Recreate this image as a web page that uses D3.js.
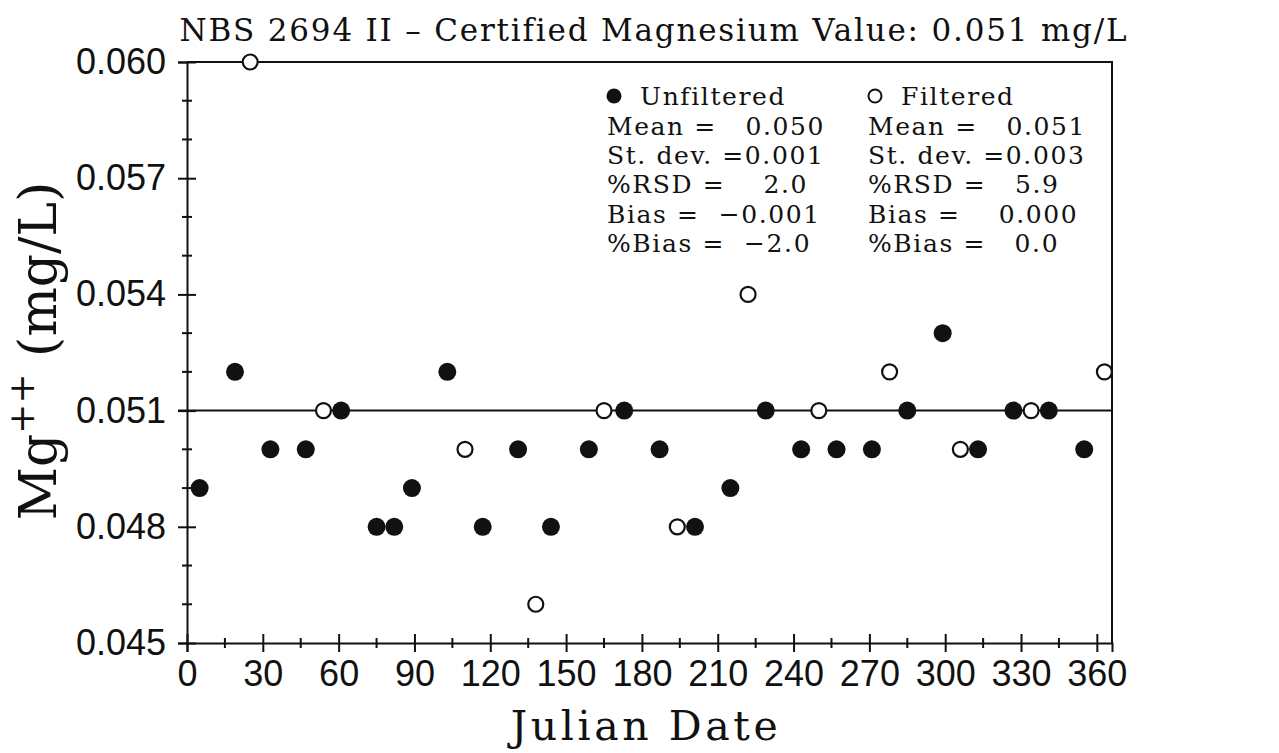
<!DOCTYPE html>
<html>
<head>
<meta charset="utf-8">
<script src="https://cdn.jsdelivr.net/npm/d3@7"></script>
<style>
  body { margin: 0; background: #fff; }
  svg { display: block; }
  text { white-space: pre; }
</style>
</head>
<body>
<svg id="chart" width="1279" height="753"></svg>
<script>
// Julian day and Mg++ (mg/L)
const unfilteredDays = [5, 19, 33, 47, 61, 75, 82, 89, 103, 117, 131, 144, 159, 173, 187, 201, 215, 229, 243, 257, 271, 285, 299, 313, 327, 341, 355];
const unfilteredMg = [0.049, 0.052, 0.050, 0.050, 0.051, 0.048, 0.048, 0.049, 0.052, 0.048, 0.050, 0.048, 0.050, 0.051, 0.050, 0.048, 0.049, 0.051, 0.050, 0.050, 0.050, 0.051, 0.053, 0.050, 0.051, 0.051, 0.050];
const filteredDays = [25, 54, 110, 138, 165, 194, 222, 250, 278, 306, 334, 363];
const filteredMg = [0.060, 0.051, 0.050, 0.046, 0.051, 0.048, 0.054, 0.051, 0.052, 0.050, 0.051, 0.052];

const certifiedValue = 0.051;
const xMajorTicks = d3.range(0, 361, 30);
const xMinorTicks = d3.range(15, 361, 30);
const yMajorTicks = [0.045, 0.048, 0.051, 0.054, 0.057, 0.060];
const yMinorTicks = [0.046, 0.047, 0.049, 0.050, 0.052, 0.053, 0.055, 0.056, 0.058, 0.059];

const unfilteredStats = ["Mean =   0.050", "St. dev. =0.001", "%RSD =    2.0", "Bias =  \u22120.001", "%Bias =  \u22122.0"];
const filteredStats = ["Mean =   0.051", "St. dev. =0.003", "%RSD =   5.9", "Bias =    0.000", "%Bias =   0.0"];

const svg = d3.select("#chart");
const serif = "'DejaVu Serif', serif";
const sans = "'Liberation Sans', Arial, sans-serif";
const ink = "#111";

const x = d3.scaleLinear().domain([0, 366]).range([187, 1112]);
const y = d3.scaleLinear().domain([0.045, 0.060]).range([643, 62]);

// title
svg.append("text")
  .attr("x", 654).attr("y", 41)
  .attr("text-anchor", "middle")
  .attr("font-family", serif).attr("font-size", 31)
  .attr("letter-spacing", 1.8)
  .attr("fill", ink)
  .text("NBS 2694 II \u2013 Certified Magnesium Value: 0.051 mg/L");

// frame (top and right)
svg.append("path")
  .attr("d", `M${x(0)},${y(0.060)} H${x(366)} V${y(0.045)}`)
  .attr("fill", "none").attr("stroke", ink).attr("stroke-width", 2);

// y axis
const yAxis = svg.append("g")
  .attr("transform", `translate(${x(0)},0)`)
  .call(d3.axisLeft(y).tickValues(yMajorTicks).tickFormat(d3.format(".3f")).tickSize(9).tickPadding(12));
yAxis.select(".domain").attr("stroke", ink).attr("stroke-width", 2);
yAxis.selectAll(".tick line").attr("x1", 9).attr("stroke", ink).attr("stroke-width", 2);
yAxis.selectAll(".tick text").attr("font-family", sans).attr("font-size", 36).attr("fill", ink);
yAxis.append("g").selectAll("line").data(yMinorTicks).join("line")
  .attr("x1", -5).attr("x2", 5)
  .attr("y1", d => y(d)).attr("y2", d => y(d))
  .attr("stroke", ink).attr("stroke-width", 2);

// x axis
const xAxis = svg.append("g")
  .attr("transform", `translate(0,${y(0.045)})`)
  .call(d3.axisBottom(x).tickValues(xMajorTicks).tickSize(9).tickPadding(8));
xAxis.select(".domain").attr("stroke", ink).attr("stroke-width", 2);
xAxis.selectAll(".tick line").attr("y1", -9).attr("stroke", ink).attr("stroke-width", 2);
xAxis.selectAll(".tick text").attr("font-family", sans).attr("font-size", 36).attr("fill", ink);
xAxis.append("g").selectAll("line").data(xMinorTicks).join("line")
  .attr("x1", d => x(d)).attr("x2", d => x(d))
  .attr("y1", -5).attr("y2", 5)
  .attr("stroke", ink).attr("stroke-width", 2);

// certified value line
svg.append("line")
  .attr("x1", x(0) - 9).attr("x2", x(366))
  .attr("y1", y(certifiedValue)).attr("y2", y(certifiedValue))
  .attr("stroke", ink).attr("stroke-width", 2);

// axis titles
svg.append("text")
  .attr("x", 646).attr("y", 740)
  .attr("text-anchor", "middle")
  .attr("font-family", serif).attr("font-size", 41)
  .attr("letter-spacing", 3.6)
  .attr("fill", ink)
  .text("Julian Date");

const yTitle = svg.append("text")
  .attr("transform", "translate(56,351) rotate(-90)")
  .attr("text-anchor", "middle")
  .attr("font-family", serif).attr("font-size", 52)
  .attr("fill", ink);
yTitle.append("tspan").text("Mg");
yTitle.append("tspan").attr("dy", -22).attr("font-size", 36).text("++");
yTitle.append("tspan").attr("dy", 22).text(" (mg/L)");

// points
const filtered = filteredDays.map((d, i) => ({ day: d, mg: filteredMg[i] }));
const unfiltered = unfilteredDays.map((d, i) => ({ day: d, mg: unfilteredMg[i] }));

svg.append("g").selectAll("circle").data(filtered).join("circle")
  .attr("cx", d => x(d.day)).attr("cy", d => y(d.mg))
  .attr("r", 7.5)
  .attr("fill", "#fff").attr("stroke", ink).attr("stroke-width", 2.2);

svg.append("g").selectAll("circle").data(unfiltered).join("circle")
  .attr("cx", d => x(d.day)).attr("cy", d => y(d.mg))
  .attr("r", 9)
  .attr("fill", ink);

// legend / stats blocks
function statsBlock(left, title, filled, stats) {
  const g = svg.append("g").attr("transform", `translate(${left},0)`);
  g.append("circle").attr("cx", 7).attr("cy", 96).attr("r", filled ? 7.5 : 6.5)
    .attr("fill", filled ? ink : "#fff").attr("stroke", ink).attr("stroke-width", filled ? 0 : 2);
  g.append("text").attr("x", 33).attr("y", 105)
    .attr("font-family", serif).attr("font-size", 25).attr("letter-spacing", 1.6).attr("fill", ink).text(title);
  stats.forEach((s, i) => {
    g.append("text").attr("x", 0).attr("y", 134.5 + i * 29.4)
      .attr("font-family", serif).attr("font-size", 25).attr("letter-spacing", 1.6).attr("fill", ink)
      .text(s);
  });
}
statsBlock(607, "Unfiltered", true, unfilteredStats);
statsBlock(868, "Filtered", false, filteredStats);
</script>
</body>
</html>
